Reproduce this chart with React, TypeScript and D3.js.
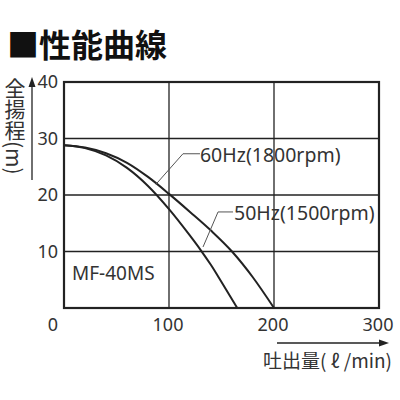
import * as d3 from "d3";

// flow (l/min) and head (m)
const flow60 = [0, 20, 40, 60, 80, 100, 120, 140, 160, 180, 200];
const head60 = [28.8, 28.4, 27.4, 25.7, 23.2, 20.2, 17.0, 13.7, 10.0, 5.4, 0];
const flow50 = [0, 20, 40, 60, 80, 100, 120, 130, 140, 150, 165];
const head50 = [28.8, 28.3, 27.0, 24.8, 21.6, 17.5, 12.8, 10.3, 7.6, 4.6, 0];

const xTicks = [0, 100, 200, 300];
const yTicks = [10, 20, 30, 40];

const seriesNames = ["60Hz(1800rpm)", "50Hz(1500rpm)"];
// leader line anchors in data units: curve point, bend, end of horizontal
const leader60: [number, number][] = [[87.6, 21.9], [113.3, 27.3], [129.5, 27.3]];
const leader50: [number, number][] = [[132.4, 10.8], [146.7, 17.0], [161, 17.0]];

const W = 400;
const H = 400;
const latin = "'Noto Sans', 'Open Sans', sans-serif";
const cjk = "'Noto Sans CJK JP', 'Noto Sans', sans-serif";

export default function App() {
  const x = d3.scaleLinear().domain([0, 300]).range([64, 379]);
  const y = d3.scaleLinear().domain([0, 40]).range([308, 82]);

  const line = d3
    .line<[number, number]>()
    .x((d) => x(d[0]))
    .y((d) => y(d[1]))
    .curve(d3.curveMonotoneX);
  const leader = d3
    .line<[number, number]>()
    .x((d) => x(d[0]))
    .y((d) => y(d[1]));

  const pts60 = flow60.map((q, i) => [q, head60[i]] as [number, number]);
  const pts50 = flow50.map((q, i) => [q, head50[i]] as [number, number]);

  const ink = "#222";
  const text = "#333";

  return (
    <svg
      width={W}
      height={H}
      viewBox={`0 0 ${W} ${H}`}
      style={{ position: "absolute", left: 0, top: 0, background: "#fff" }}
    >
      <rect width={W} height={H} fill="#fff" />
      <text x={7} y={57} fontFamily={cjk} fontWeight={700} fontSize={32} fill="#111">
        ■性能曲線
      </text>

      {/* grid */}
      {yTicks.slice(0, 3).map((t) => (
        <line key={"gy" + t} x1={x(0)} x2={x(300)} y1={y(t)} y2={y(t)} stroke={ink} strokeWidth={1.3} />
      ))}
      {xTicks.slice(1, 3).map((t) => (
        <line key={"gx" + t} x1={x(t)} x2={x(t)} y1={y(0)} y2={y(40)} stroke={ink} strokeWidth={1.3} />
      ))}
      <rect
        x={x(0)}
        y={y(40)}
        width={x(300) - x(0)}
        height={y(0) - y(40)}
        fill="none"
        stroke={ink}
        strokeWidth={2.2}
      />

      {/* curves */}
      <path d={line(pts60) ?? ""} fill="none" stroke={ink} strokeWidth={2} />
      <path d={line(pts50) ?? ""} fill="none" stroke={ink} strokeWidth={2} />

      {/* leaders + labels */}
      <path d={leader(leader60) ?? ""} fill="none" stroke="#555" strokeWidth={1} />
      <path d={leader(leader50) ?? ""} fill="none" stroke="#555" strokeWidth={1} />
      <text x={x(leader60[2][0])} y={y(leader60[2][1]) + 8} fontFamily={latin} fontSize={19.5} fill={text}>
        {seriesNames[0]}
      </text>
      <text x={x(leader50[2][0]) + 1} y={y(leader50[2][1]) + 8} fontFamily={latin} fontSize={19.5} fill={text}>
        {seriesNames[1]}
      </text>
      <text x={72} y={280} fontFamily={latin} fontSize={19} fill={text}>
        MF-40MS
      </text>

      {/* y ticks */}
      {yTicks.map((t) => (
        <text
          key={"ty" + t}
          x={x(0) - 6}
          y={y(t)}
          dy="0.36em"
          textAnchor="end"
          fontFamily={latin}
          fontSize={18}
          fill={text}
        >
          {t}
        </text>
      ))}
      {/* x ticks */}
      {xTicks.map((t) => (
        <text
          key={"tx" + t}
          x={t === 0 ? x(t) - 11 : x(t) - 1}
          y={331}
          textAnchor="middle"
          fontFamily={latin}
          fontSize={18}
          fill={text}
        >
          {t}
        </text>
      ))}

      {/* y axis title with arrow */}
      <line x1={32} x2={32} y1={180} y2={84} stroke={ink} strokeWidth={1.3} />
      <path d="M32,77 L28.5,87 L35.5,87 Z" fill={ink} />
      <text
        x={15}
        y={78}
        fontFamily={cjk}
        fontSize={21}
        fill={text}
        style={{ writingMode: "vertical-rl" }}
      >
        全揚程(m)
      </text>

      {/* x axis title with arrow */}
      <line x1={277} x2={382} y1={343} y2={343} stroke={ink} strokeWidth={1.3} />
      <path d="M389,343 L379,339.5 L379,346.5 Z" fill={ink} />
      <text x={392} y={368} textAnchor="end" fontFamily={cjk} fontSize={19} fill={text}>
        吐出量( ℓ /min)
      </text>
    </svg>
  );
}
